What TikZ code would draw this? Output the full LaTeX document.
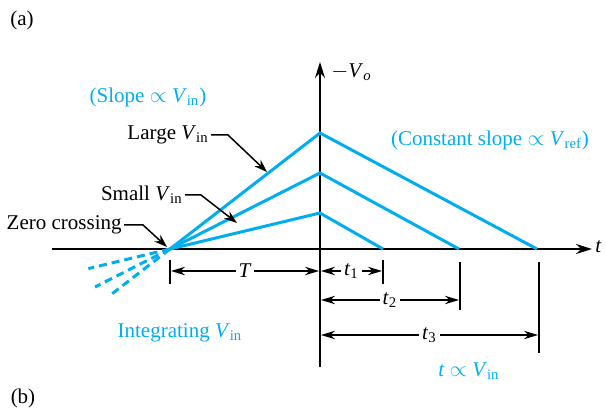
\documentclass[tikz,border=0pt]{standalone}
\usepackage{fontspec}
\setmainfont{Liberation Serif}
\usepackage{xcolor}
\definecolor{rampCyan}{RGB}{0,174,239}
\usepackage{tikz}
\usetikzlibrary{arrows.meta,positioning,calc}
\newcommand{\vsub}[2]{\textit{#1}\textsubscript{#2}}
\tikzstyle{axisline}=[-{Stealth[length=8pt,width=5pt]}, line width=1pt, color=black]
\tikzstyle{rampline}=[line width=1.5pt, color=rampCyan]
\tikzstyle{rampdash}=[rampline, dash pattern=on 4pt off 2.5pt]
\tikzstyle{dimarrow}=[{Stealth[length=7pt,width=4.2pt]}-{Stealth[length=7pt,width=4.2pt]}, line width=0.65pt]
\tikzstyle{dimtick}=[line width=1pt]
\tikzstyle{leader}=[-{Stealth[length=6.5pt,width=4.5pt]}, line width=0.75pt]
\tikzstyle{txt}=[font=\fontsize{10.5}{12.6}\selectfont, inner sep=1pt]
\tikzstyle{bluetxt}=[txt, text=rampCyan]
\tikzstyle{dimlabel}=[txt, fill=white, inner sep=1.5pt]

\begin{document}
\begin{tikzpicture}[x=0.5pt, y=-0.5pt]
    \useasboundingbox (0,0) rectangle (606,411);

    % Axes
    \coordinate (O)  at (320,249);
    \coordinate (xL) at (52,249);
    \coordinate (xR) at (592,249);
    \coordinate (yB) at (320,367);
    \coordinate (yT) at (320,62);
    \draw[axisline] (xL) -- (xR);
    \draw[axisline] (yB) -- (yT);
    \node[txt, anchor=west] (vo)  at (329,72)  {$-$\vsub{V}{\textit{o}}};
    \node[txt, anchor=west, inner sep=0pt] (tax) at (595,247) {\textit{t}};

    % Ramps
    \coordinate (zc) at (170,249);
    \coordinate (pL) at (320,133);
    \coordinate (pM) at (320,173);
    \coordinate (pS) at (320,213);
    \coordinate (eL) at (537,249);
    \coordinate (eM) at (459,249);
    \coordinate (eS) at (383,249);
    \draw[rampline] (zc) -- (pL) -- (eL);
    \draw[rampline] (zc) -- (pM) -- (eM);
    \draw[rampline] (zc) -- (pS) -- (eS);

    % Dashed continuation
    \coordinate (dL) at ($(zc)!-39pt!(pL)$);
    \coordinate (dM) at ($(zc)!-42pt!(pM)$);
    \coordinate (dS) at ($(zc)!-42pt!(pS)$);
    \draw[rampdash] (zc) -- (dL);
    \draw[rampdash] (zc) -- (dM);
    \draw[rampdash] (zc) -- (dS);

    % Time marks
    \draw[dimtick] (170,260) -- (170,284);
    \draw[dimtick] (383,260) -- (383,284);
    \draw[dimtick] (460,262) -- (460,310);
    \draw[dimtick] (539,262) -- (539,353);

    \coordinate (Ta)  at (171,271);
    \coordinate (Tb)  at (319,271);
    \coordinate (t1a) at (321,271);
    \coordinate (t1b) at (382,271);
    \coordinate (t2a) at (321,300);
    \coordinate (t2b) at (459,300);
    \coordinate (t3a) at (321,335);
    \coordinate (t3b) at (538,335);
    \draw[dimarrow] (Ta) -- node[dimlabel] (Tlab) {\textit{T}} (Tb);
    \draw[dimarrow] (t1a) -- node[dimlabel] (t1lab) {\vsub{t}{1}} (t1b);
    \draw[dimarrow] (t2a) -- node[dimlabel] (t2lab) {\vsub{t}{2}} (t2b);
    \draw[dimarrow] (t3a) -- node[dimlabel] (t3lab) {\vsub{t}{3}} (t3b);

    % Leaders
    \node[txt, anchor=east] (large) at (211,135) {Large \vsub{V}{in}};
    \coordinate (largeBend) at (228,135);
    \coordinate (largeTip)  at (267,172);
    \draw[leader] (large.east) -- (largeBend) -- (largeTip);

    \node[txt, anchor=east] (small) at (185,195) {Small \vsub{V}{in}};
    \coordinate (smallBend) at (201,195);
    \coordinate (smallTip)  at (237,223);
    \draw[leader] (small.east) -- (smallBend) -- (smallTip);

    \node[txt, anchor=east] (zero) at (124,225) {Zero crossing};
    \coordinate (zeroBend) at (143,225);
    \coordinate (zeroTip)  at (167,247);
    \draw[leader] (zero.east) -- (zeroBend) -- (zeroTip);

    % Blue notes
    \node[bluetxt] (slope) at (148,97)  {(Slope $\propto$ \vsub{V}{in})};
    \node[bluetxt] (const) at (490,140) {(Constant slope $\propto$ \vsub{V}{ref})};
    \node[bluetxt] (integ) at (180,333) {Integrating \vsub{V}{in}};
    \node[bluetxt] (prop)  at (469,371) {\textit{t} $\propto$ \vsub{V}{in}};

    % Panel labels
    \node[txt] (pa) at (22,20)  {(a)};
    \node[txt] (pb) at (23,398) {(b)};
  \end{tikzpicture}
\end{document}
